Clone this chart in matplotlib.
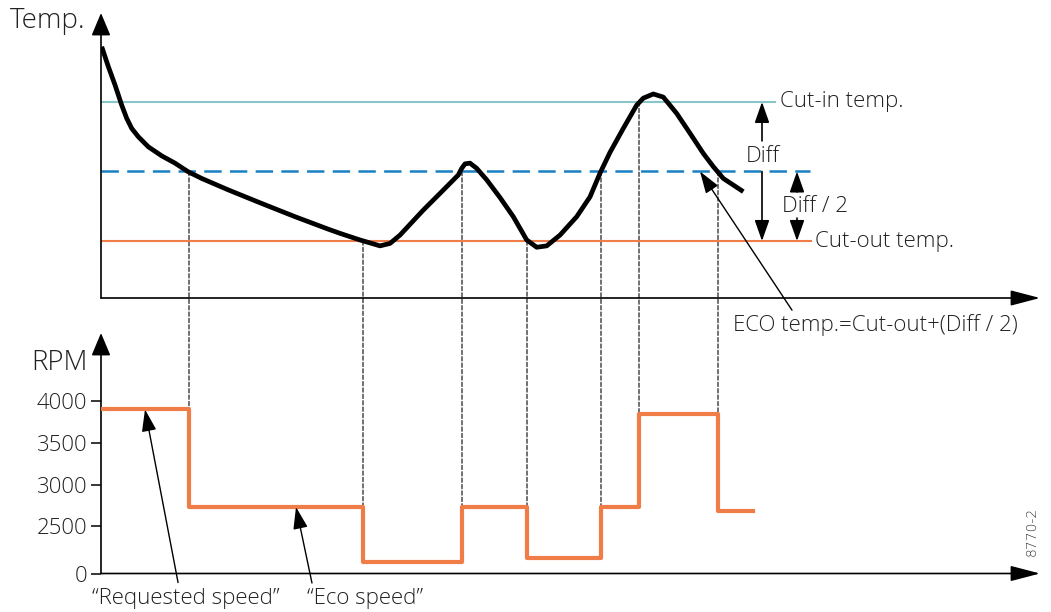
import numpy as np
import matplotlib
matplotlib.use('Agg')
import matplotlib.pyplot as plt
from matplotlib.patches import ConnectionPatch

plt.rcParams['font.family'] = ['Open Sans', 'DejaVu Sans']
plt.rcParams['font.weight'] = 'light'
plt.rcParams['lines.scale_dashes'] = False

# ---------------- data ----------------
# temperature curve (time in arbitrary units, temperature in arbitrary units)
time = [0.07, 0.73, 1.4, 2.07, 2.57, 3.07, 3.73, 4.73, 6.07, 7.4, 8.73, 10.07,
        12.73, 16.07, 19.4, 22.73, 23.9, 25.9, 27.9, 28.9, 29.9, 32.23, 33.9,
        35.73, 36.07, 36.4, 36.9, 37.57, 38.57, 39.9, 41.23, 42.57, 43.57,
        44.57, 45.9, 47.57, 48.9, 49.9, 50.9, 52.23, 53.57, 54.23, 55.23,
        56.23, 57.57, 58.9, 60.23, 61.23, 62.23, 64.23]
temp = [7.59, 7.02, 6.49, 5.91, 5.53, 5.24, 5.00, 4.71, 4.45, 4.24, 3.99, 3.80,
        3.47, 3.08, 2.70, 2.34, 2.22, 2.03, 1.86, 1.93, 2.17, 2.89, 3.37,
        3.90, 4.09, 4.22, 4.24, 4.09, 3.76, 3.25, 2.70, 2.03, 1.82,
        1.86, 2.17, 2.70, 3.27, 3.95, 4.55, 5.24, 5.91, 6.11, 6.23,
        6.14, 5.67, 5.10, 4.52, 4.14, 3.80, 3.42]

cut_in = 6.0
eco = 4.0
cut_out = 2.0

# compressor speed steps
step_times = [0.0, 8.8, 26.2, 36.1, 42.6, 50.0, 53.8, 61.7]
step_end = 65.2
rpm_levels = [3900, 2730, 620, 2730, 800, 2730, 3840, 2680]
# temperature level at which each speed change happens (step_times[1:])
switch_temps = [eco, cut_out, eco, cut_out, eco, cut_in, eco]

rpm_ticks = [0, 2500, 3000, 3500, 4000]
rpm_ticklabels = ['0', '2500', '3000', '3500', '4000']

# ---------------- styling ----------------
TXT = '#222222'
ORANGE = '#f07d48'
TEAL = '#88c6ca'
BLUE = '#1b80c2'
FS = 16

W, H = 1051, 612
fig = plt.figure(figsize=(W / 100, H / 100), dpi=100)


def rect(l, r, b, t):
    return [l / W, 1 - b / H, (r - l) / W, (b - t) / H]


ax_t = fig.add_axes(rect(101, 1040, 298, 13))
ax_b = fig.add_axes(rect(101, 1040, 573.5, 333))

# piecewise-linear RPM axis (broken scale below 2500)
rk = [0, 2500, 4000, 6000]
pk = [0, 47.3, 172.4, 339.2]


def fwd(v):
    return np.interp(v, rk, pk)


def inv(p):
    return np.interp(p, pk, rk)


ax_b.set_yscale('function', functions=(fwd, inv))

for ax in (ax_t, ax_b):
    ax.set_xlim(0, 93.9)
    for s in ax.spines.values():
        s.set_visible(False)
    ax.patch.set_visible(False)
    ax.set_xticks([])

ax_t.set_ylim(0.36, 8.56)
ax_t.set_yticks([])
ax_b.set_ylim(0, 4817)
ax_b.set_yticks(rpm_ticks)
ax_b.set_yticklabels(rpm_ticklabels)
ax_b.tick_params(axis='y', length=7, width=1.1, pad=3, labelsize=FS,
                 labelcolor=TXT, color='k')


def axis_arrows(ax):
    ax.annotate('', xy=(1, 0), xytext=(0, 0), xycoords='axes fraction',
                arrowprops=dict(arrowstyle='-|>,head_length=1.3,head_width=0.34',
                                mutation_scale=14, lw=1.2, color='k',
                                shrinkA=0, shrinkB=0), annotation_clip=False)
    ax.annotate('', xy=(0, 1), xytext=(0, 0), xycoords='axes fraction',
                arrowprops=dict(arrowstyle='-|>,head_length=1.0,head_width=0.42',
                                mutation_scale=14, lw=1.2, color='k',
                                shrinkA=0, shrinkB=0), annotation_clip=False)


axis_arrows(ax_t)
axis_arrows(ax_b)

# reference temperature lines
ax_t.plot([0, 67.4], [cut_in, cut_in], color=TEAL, lw=1.5, zorder=2)
ax_t.plot([0, 71.0], [cut_out, cut_out], color=ORANGE, lw=1.5, zorder=2)
ax_t.plot([0, 70.9], [eco, eco], color=BLUE, lw=1.8, dashes=(12.5, 6), zorder=2)

# temperature curve
ax_t.plot(time, temp, color='k', lw=3.4, solid_joinstyle='round',
          solid_capstyle='butt', zorder=4)

# speed steps
ax_b.step(step_times + [step_end], rpm_levels + [rpm_levels[-1]], where='post',
          color=ORANGE, lw=3, zorder=3)

# vertical dashed connectors
for i, (t, tv) in enumerate(zip(step_times[1:], switch_temps)):
    r = max(rpm_levels[i], rpm_levels[i + 1])
    con = ConnectionPatch(xyA=(t, tv), coordsA=ax_t.transData,
                          xyB=(t, r), coordsB=ax_b.transData,
                          color='#222222', lw=0.9, linestyle=(0, (3, 1.6)),
                          zorder=-1)
    fig.add_artist(con)

# Diff annotations
ap = dict(arrowstyle='-|>,head_length=0.85,head_width=0.3', mutation_scale=15,
          lw=1.2, color='k', shrinkA=0, shrinkB=0)
ax_t.annotate('', xy=(66.1, cut_in), xytext=(66.1, 4.88), arrowprops=ap)
ax_t.annotate('', xy=(66.1, cut_out), xytext=(66.1, eco), arrowprops=ap)
ax_t.text(66.2, 4.42, 'Diff', ha='center', va='center', fontsize=FS, color=TXT)

ax_t.annotate('', xy=(69.6, eco), xytext=(69.6, 3.41), arrowprops=ap)
ax_t.annotate('', xy=(69.6, cut_out), xytext=(69.6, 2.66), arrowprops=ap)
ax_t.text(68.1, 2.98, 'Diff / 2', ha='left', va='center', fontsize=FS, color=TXT)

ax_t.text(67.9, cut_in, 'Cut-in temp.', ha='left', va='center', fontsize=FS, color=TXT)
ax_t.text(71.4, cut_out, 'Cut-out temp.', ha='left', va='center', fontsize=FS, color=TXT)

ap_thin = dict(arrowstyle='-|>,head_length=0.9,head_width=0.3', mutation_scale=15,
               lw=1.0, color='k', shrinkA=0, shrinkB=0)
ax_t.annotate('', xy=(59.9, eco), xytext=(69.1, 0.01), arrowprops=ap_thin,
              annotation_clip=False)
ax_t.text(63.2, -0.42, 'ECO temp.=Cut-out+(Diff / 2)', ha='left', va='center',
          fontsize=FS, color=TXT, clip_on=False)

# speed annotations
ax_b.annotate('', xy=(4.4, rpm_levels[0]), xytext=(23.8, -124.6),
              textcoords='offset points', arrowprops=ap_thin, annotation_clip=False)
ax_b.text(0.0905, -0.102, '\u201cRequested speed\u201d', transform=ax_b.transAxes,
          ha='center', va='center', fontsize=FS, color=TXT)
ax_b.annotate('', xy=(19.5, rpm_levels[1]), xytext=(11.5, -54.7),
              textcoords='offset points', arrowprops=ap_thin, annotation_clip=False)
ax_b.text(0.281, -0.102, '\u201cEco speed\u201d', transform=ax_b.transAxes,
          ha='center', va='center', fontsize=FS, color=TXT)

# axis titles
fig.text(10 / W, 1 - 21 / H, 'Temp.', ha='left', va='center', fontsize=20, color=TXT)
fig.text(88 / W, 1 - 363 / H, 'RPM', ha='right', va='center', fontsize=20, color=TXT)

fig.text(1032 / W, 1 - 531 / H, '8770-2', rotation=90, ha='center', va='center',
         fontsize=10, color='#333333', family=['Liberation Sans Narrow', 'DejaVu Sans'])

fig.savefig('out.png', dpi=100)
